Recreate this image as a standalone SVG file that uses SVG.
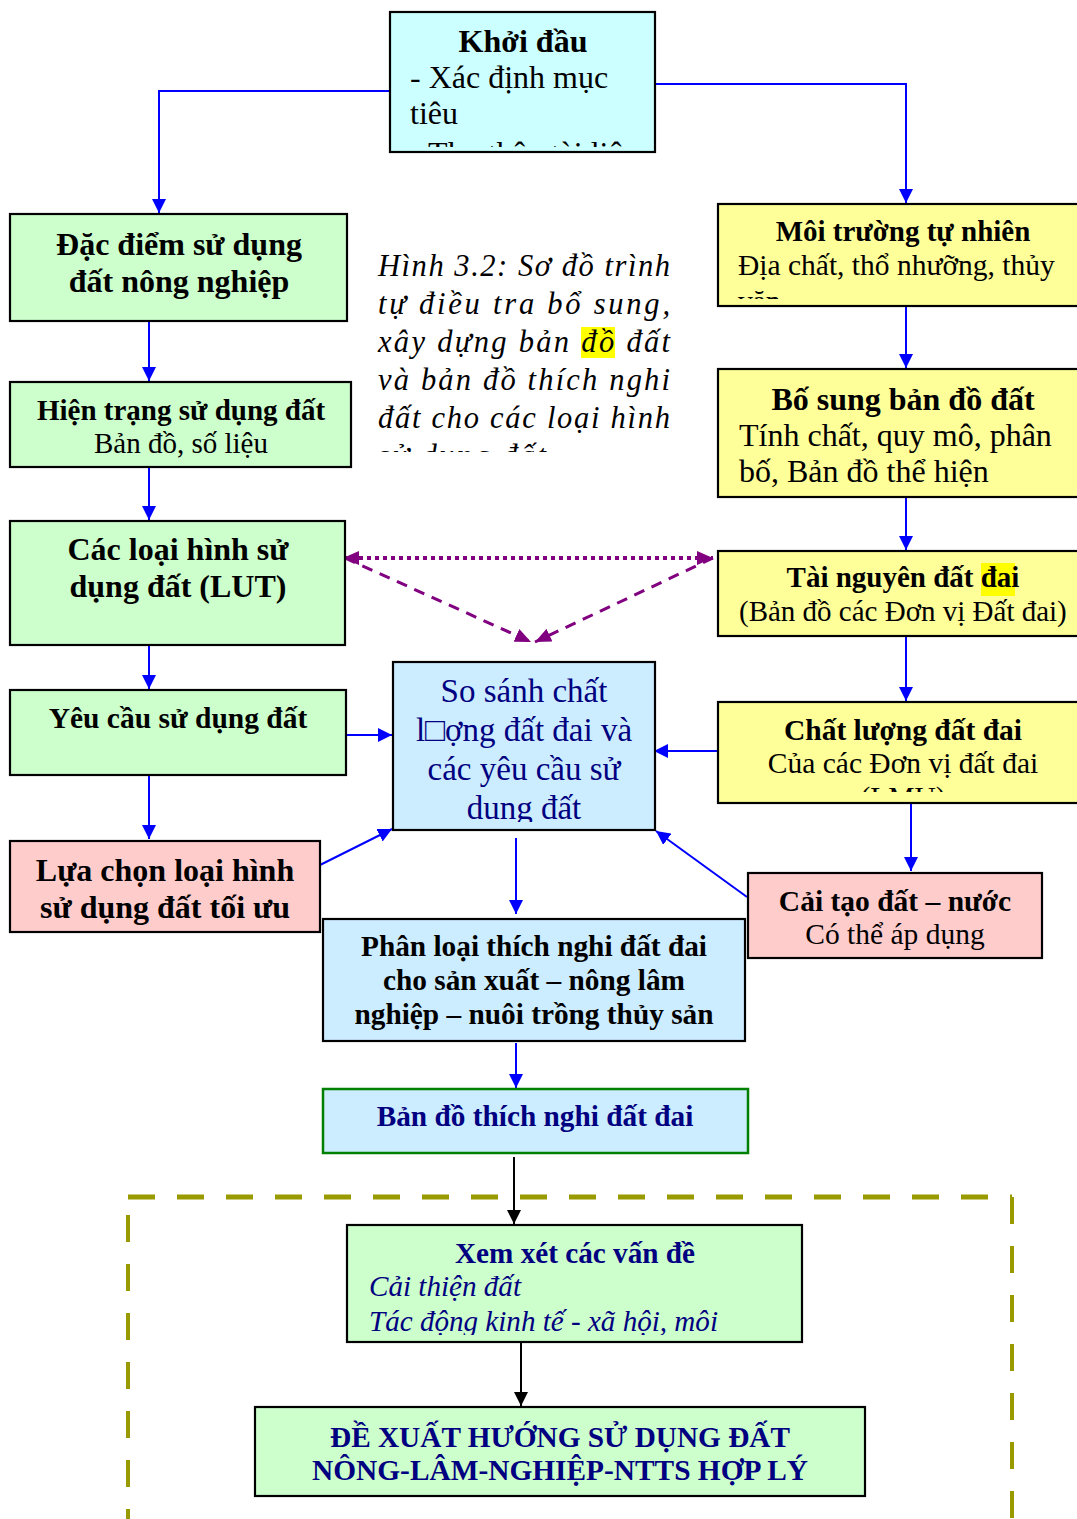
<svg xmlns="http://www.w3.org/2000/svg" width="1077" height="1519" viewBox="0 0 1077 1519">
  <style>
    .box { stroke: #000; stroke-width: 2.2; }
    .green { fill: #CCFFCC; }
    .yellow { fill: #FFFF99; }
    .pink { fill: #FFCCCC; }
    .cyan { fill: #CCFFFF; }
    .blue { fill: #CCECFF; }
    text { font-family: "Liberation Serif", "Times New Roman", serif; fill: #000; }
    .b { font-weight: bold; }
    .c { text-anchor: middle; }
    .navy { fill: #000080; }
    .it { font-style: italic; }
    .conn { stroke: #0000FF; stroke-width: 2; fill: none; }
    .blk { stroke: #000; stroke-width: 2; fill: none; }
  </style>
  <defs>
    <marker id="ab" markerUnits="userSpaceOnUse" markerWidth="14" markerHeight="14" refX="14" refY="7" orient="auto">
      <path d="M0,0 L14,7 L0,14 z" fill="#0000FF"/>
    </marker>
    <marker id="ak" markerUnits="userSpaceOnUse" markerWidth="14" markerHeight="14" refX="14" refY="7" orient="auto">
      <path d="M0,0 L14,7 L0,14 z" fill="#000"/>
    </marker>
    <marker id="ap" markerUnits="userSpaceOnUse" markerWidth="16" markerHeight="14" refX="16" refY="7" orient="auto">
      <path d="M0,0 L16,7 L0,14 z" fill="#800080"/>
    </marker>
    <marker id="aps" markerUnits="userSpaceOnUse" markerWidth="16" markerHeight="14" refX="0" refY="7" orient="auto">
      <path d="M16,0 L0,7 L16,14 z" fill="#800080"/>
    </marker>
    <clipPath id="clipStart"><rect x="391" y="13" width="263" height="134"/></clipPath>
    <clipPath id="clipCaption"><rect x="370" y="240" width="310" height="212"/></clipPath>
    <clipPath id="clipNature"><rect x="719" y="205" width="358" height="94"/></clipPath>
    <clipPath id="clipCompare"><rect x="394" y="663" width="260" height="159"/></clipPath>
    <clipPath id="clipQuality"><rect x="719" y="703" width="358" height="89"/></clipPath>
    <clipPath id="clipReview"><rect x="348" y="1226" width="453" height="109"/></clipPath>
  </defs>

  <!-- caption -->
  <g id="caption">
    <rect x="581" y="327" width="34" height="31" fill="#FFFF00"/>
    <g clip-path="url(#clipCaption)" font-size="30.5">
      <text class="it" x="378" y="276" textLength="292" lengthAdjust="spacing">Hình 3.2: Sơ đồ trình</text>
      <text class="it" x="378" y="314" textLength="292" lengthAdjust="spacing">tự điều tra bổ sung,</text>
      <text class="it" x="378" y="352" textLength="292" lengthAdjust="spacing">xây dựng bản đồ đất</text>
      <text class="it" x="378" y="390" textLength="292" lengthAdjust="spacing">và bản đồ thích nghi</text>
      <text class="it" x="378" y="428" textLength="292" lengthAdjust="spacing">đất cho các loại hình</text>
      <text class="it" x="378" y="466" textLength="168" lengthAdjust="spacing">sử dụng đất</text>
    </g>
  </g>

  <!-- connectors -->
  <g id="connectors">
    <path class="conn" d="M390,91 H159 V213" marker-end="url(#ab)"/>
    <path class="conn" d="M655,84 H906 V203" marker-end="url(#ab)"/>
    <path class="conn" d="M149,321 V381" marker-end="url(#ab)"/>
    <path class="conn" d="M149,467 V520" marker-end="url(#ab)"/>
    <path class="conn" d="M149,645 V689" marker-end="url(#ab)"/>
    <path class="conn" d="M149,775 V839" marker-end="url(#ab)"/>
    <path class="conn" d="M347,735 H392" marker-end="url(#ab)"/>
    <path class="conn" d="M318,866 L392,829" marker-end="url(#ab)"/>
    <path class="conn" d="M906,306 V368" marker-end="url(#ab)"/>
    <path class="conn" d="M906,497 V550" marker-end="url(#ab)"/>
    <path class="conn" d="M906,636 V701" marker-end="url(#ab)"/>
    <path class="conn" d="M717,751 H654" marker-end="url(#ab)"/>
    <path class="conn" d="M911,803 V871" marker-end="url(#ab)"/>
    <path class="conn" d="M747,897 L656,831" marker-end="url(#ab)"/>
    <path class="conn" d="M516,838 V914" marker-end="url(#ab)"/>
    <path class="conn" d="M516,1043 V1088" marker-end="url(#ab)"/>
    <path class="blk" d="M514,1157 V1224" marker-end="url(#ak)"/>
    <path class="blk" d="M521,1343 V1406" marker-end="url(#ak)"/>
    <!-- purple links between LUT, land resources and comparison -->
    <path d="M343,558 H713" stroke="#800080" stroke-width="4" stroke-dasharray="4,4" fill="none" marker-start="url(#aps)" marker-end="url(#ap)"/>
    <path d="M345,558 L531,642" stroke="#800080" stroke-width="3" stroke-dasharray="11,8" fill="none" marker-end="url(#ap)"/>
    <path d="M713,558 L535,642" stroke="#800080" stroke-width="3" stroke-dasharray="11,8" fill="none" marker-end="url(#ap)"/>
    <!-- dashed frame -->
    <path d="M128,1197 H1012" stroke="#999900" stroke-width="5" stroke-dasharray="27,22" fill="none"/>
    <path d="M128,1215 V1519" stroke="#999900" stroke-width="4" stroke-dasharray="27,22" fill="none"/>
    <path d="M1012,1197 V1519" stroke="#999900" stroke-width="4" stroke-dasharray="27,22" fill="none"/>
  </g>

  <g id="start">
    <rect class="box cyan" x="390" y="12" width="265" height="140"/>
    <g clip-path="url(#clipStart)">
      <text class="b c" x="523" y="52" font-size="32">Khởi đầu</text>
      <text x="410" y="88" font-size="32">- Xác định mục</text>
      <text x="410" y="124" font-size="32">tiêu</text>
      <text x="410" y="164" font-size="32">- Thu thập tài liệu</text>
    </g>
  </g>

  <g id="agri-features">
    <rect class="box green" x="10" y="214" width="337" height="107"/>
    <text class="b c" x="179" y="255" font-size="32">Đặc điểm sử dụng</text>
    <text class="b c" x="179" y="292" font-size="32">đất nông nghiệp</text>
  </g>

  <g id="current-use">
    <rect class="box green" x="10" y="382" width="341" height="85"/>
    <text class="b c" x="181" y="420" font-size="29">Hiện trạng sử dụng đất</text>
    <text class="c" x="181" y="453" font-size="29">Bản đồ, số liệu</text>
  </g>

  <g id="lut">
    <rect class="box green" x="10" y="521" width="335" height="124"/>
    <text class="b c" x="178" y="560" font-size="32">Các loại hình sử</text>
    <text class="b c" x="178" y="597" font-size="32">dụng đất (LUT)</text>
  </g>

  <g id="requirements">
    <rect class="box green" x="10" y="690" width="336" height="85"/>
    <text class="b c" x="178" y="728" font-size="29.5">Yêu cầu sử dụng đất</text>
  </g>

  <g id="optimal-lut">
    <rect class="box pink" x="10" y="841" width="310" height="91"/>
    <text class="b c" x="165" y="881" font-size="32">Lựa chọn loại hình</text>
    <text class="b c" x="165" y="918" font-size="32">sử dụng đất tối ưu</text>
  </g>

  <g id="compare">
    <rect class="box blue" x="393" y="662" width="262" height="168"/>
    <g clip-path="url(#clipCompare)">
      <text class="c navy" x="524" y="702" font-size="33">So sánh chất</text>
      <text class="c navy" x="524" y="741" font-size="33">l□ợng đất đai và</text>
      <text class="c navy" x="524" y="780" font-size="33">các yêu cầu sử</text>
      <text class="c navy" x="524" y="819" font-size="33">dung đất</text>
    </g>
  </g>

  <g id="natural-env">
    <rect class="box yellow" x="718" y="204" width="370" height="102"/>
    <g clip-path="url(#clipNature)">
      <text class="b c" x="903" y="241" font-size="29">Môi trường tự nhiên</text>
      <text x="738" y="275" font-size="29.5">Địa chất, thổ nhưỡng, thủy</text>
      <text x="738" y="311" font-size="29.5">văn</text>
    </g>
  </g>

  <g id="soil-map">
    <rect class="box yellow" x="718" y="369" width="370" height="128"/>
    <text class="b c" x="903" y="410" font-size="32">Bố sung bản đồ đất</text>
    <text x="739" y="446" font-size="32">Tính chất, quy mô, phân</text>
    <text x="739" y="482" font-size="32">bố, Bản đồ thể hiện</text>
  </g>

  <g id="land-resources">
    <rect class="box yellow" x="718" y="551" width="370" height="85"/>
    <rect x="981" y="563" width="34" height="33" fill="#FFFF00"/>
    <text class="b c" x="903" y="587" font-size="29">Tài nguyên đất đai</text>
    <text x="739" y="621" font-size="29">(Bản đồ các Đơn vị Đất đai)</text>
  </g>

  <g id="land-quality">
    <rect class="box yellow" x="718" y="702" width="370" height="101"/>
    <g clip-path="url(#clipQuality)">
      <text class="b c" x="903" y="740" font-size="29.5">Chất lượng đất đai</text>
      <text class="c" x="903" y="773" font-size="29.5">Của các Đơn vị đất đai</text>
      <text class="c" x="903" y="807" font-size="29.5">(LMU)</text>
    </g>
  </g>

  <g id="improvement">
    <rect class="box pink" x="748" y="873" width="294" height="85"/>
    <text class="b c" x="895" y="911" font-size="29.5">Cải tạo đất – nước</text>
    <text class="c" x="895" y="944" font-size="29.5">Có thể áp dụng</text>
  </g>

  <g id="classification">
    <rect class="box blue" x="323" y="919" width="422" height="122"/>
    <text class="b c" x="534" y="956" font-size="29.3">Phân loại thích nghi đất đai</text>
    <text class="b c" x="534" y="990" font-size="29.3">cho sản xuất – nông lâm</text>
    <text class="b c" x="534" y="1024" font-size="29.3">nghiệp – nuôi trồng thủy sản</text>
  </g>

  <g id="suitability-map">
    <rect x="323" y="1089" width="425" height="64" fill="#CCECFF" stroke="#008000" stroke-width="2.5"/>
    <text class="b c navy" x="535" y="1126" font-size="29.3">Bản đồ thích nghi đất đai</text>
  </g>

  <g id="review">
    <rect class="box green" x="347" y="1225" width="455" height="117"/>
    <g clip-path="url(#clipReview)">
      <text class="b c navy" x="575" y="1263" font-size="29" textLength="240" lengthAdjust="spacingAndGlyphs">Xem xét các vấn đề</text>
      <text class="it navy" x="369" y="1296" font-size="29" textLength="152" lengthAdjust="spacingAndGlyphs">Cải thiện đất</text>
      <text class="it navy" x="369" y="1331" font-size="29" textLength="349" lengthAdjust="spacingAndGlyphs">Tác động kinh tế - xã hội, môi</text>
    </g>
  </g>

  <g id="proposal">
    <rect class="box green" x="255" y="1407" width="610" height="89"/>
    <text class="b c navy" x="560" y="1447" font-size="30" textLength="460" lengthAdjust="spacingAndGlyphs">ĐỀ XUẤT HƯỚNG SỬ DỤNG ĐẤT</text>
    <text class="b c navy" x="560" y="1480" font-size="30" textLength="496" lengthAdjust="spacingAndGlyphs">NÔNG-LÂM-NGHIỆP-NTTS HỢP LÝ</text>
  </g>
</svg>
